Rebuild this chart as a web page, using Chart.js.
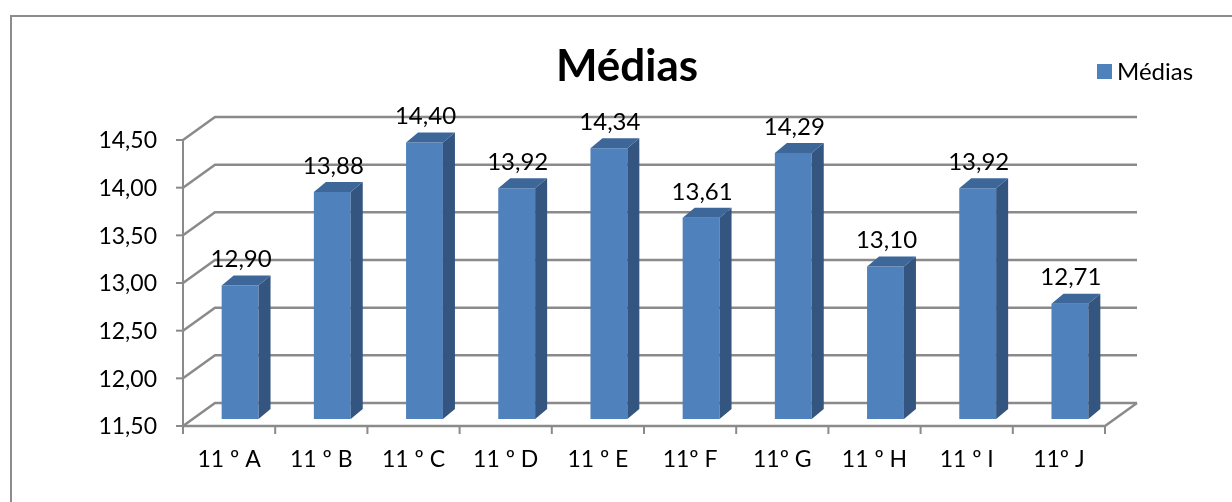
<!DOCTYPE html>
<html>
<head>
<meta charset="utf-8">
<script src="https://cdn.jsdelivr.net/npm/chart.js@4.4.1/dist/chart.umd.min.js"></script>
<style>
  html, body { margin: 0; padding: 0; background: #fff; }
  #wrap { width: 1232px; height: 502px; }
</style>
</head>
<body>
<div id="wrap"><canvas id="chart" width="1232" height="502"></canvas></div>
<script>
const turmas = ['11 º A', '11 º B', '11 º C', '11 º D', '11 º E', '11º F', '11º G', '11 º H', '11 º I', '11º J'];
const medias = [12.90, 13.88, 14.40, 13.92, 14.34, 13.61, 14.29, 13.10, 13.92, 12.71];
const yTicks = [11.5, 12, 12.5, 13, 13.5, 14, 14.5];
const titulo = 'Médias';
const serieNome = 'Médias';

const FONT = 'Lato, "Open Sans", sans-serif';
const fmt = v => v.toFixed(2).replace('.', ',');

// offsets of front / back planes from the bar plane (fake 3d)
const front = { dx: -11, dy: 7 };
const back = { dx: 21, dy: -16 };
const depth = { dx: 12, dy: -10 };

const fake3d = {
  id: 'fake3d',
  beforeDraw(chart) {
    const ctx = chart.ctx;
    ctx.save();
    ctx.fillStyle = '#fff';
    ctx.fillRect(0, 0, chart.width, chart.height);
    // outer frame
    ctx.strokeStyle = '#8c8c8c';
    ctx.lineWidth = 2;
    ctx.beginPath();
    ctx.moveTo(11, chart.height + 5);
    ctx.lineTo(11, 16);
    ctx.lineTo(chart.width + 5, 16);
    ctx.stroke();
    ctx.restore();
  },
  beforeDatasetsDraw(chart) {
    const ctx = chart.ctx;
    const y = chart.scales.y, a = chart.chartArea;
    ctx.save();
    ctx.strokeStyle = '#8a8a8a';
    ctx.lineWidth = 2.5;
    // back wall gridlines + left wall diagonals
    yTicks.forEach(t => {
      const py = y.getPixelForValue(t);
      ctx.beginPath();
      ctx.moveTo(a.left + front.dx, py + front.dy);
      ctx.lineTo(a.left + back.dx, py + back.dy);
      ctx.lineTo(a.right + back.dx, py + back.dy);
      ctx.stroke();
    });
    // floor
    const base = y.getPixelForValue(yTicks[0]);
    ctx.beginPath();
    ctx.moveTo(a.left + front.dx, base + front.dy);
    ctx.lineTo(a.right + front.dx, base + front.dy);
    ctx.lineTo(a.right + back.dx, base + back.dy);
    ctx.stroke();
    // front y axis
    const top = y.getPixelForValue(yTicks[yTicks.length - 1]);
    ctx.lineWidth = 2;
    ctx.beginPath();
    ctx.moveTo(a.left + front.dx, top + front.dy);
    ctx.lineTo(a.left + front.dx, base + front.dy);
    ctx.stroke();
    ctx.fillStyle = '#000';
    ctx.font = '23px ' + FONT;
    ctx.textAlign = 'right';
    ctx.textBaseline = 'middle';
    yTicks.forEach(t => {
      const py = y.getPixelForValue(t) + front.dy;
      ctx.beginPath();
      ctx.moveTo(a.left + front.dx - 7, py);
      ctx.lineTo(a.left + front.dx, py);
      ctx.stroke();
      ctx.fillText(fmt(t), a.left + front.dx - 26, py + 1);
    });
    // category ticks and labels
    const step = (a.right - a.left) / turmas.length;
    for (let i = 0; i <= turmas.length; i++) {
      const px = a.left + front.dx + i * step;
      ctx.beginPath();
      ctx.moveTo(px, base + front.dy);
      ctx.lineTo(px, base + front.dy + 8);
      ctx.stroke();
    }
    ctx.textAlign = 'center';
    ctx.font = '23px ' + FONT;
    turmas.forEach((t, i) => {
      ctx.fillText(t, chart.scales.x.getPixelForValue(i) + front.dx, 460);
    });
    ctx.restore();
  },
  afterDatasetsDraw(chart) {
    const ctx = chart.ctx;
    const meta = chart.getDatasetMeta(0);
    const b = chart.scales.y.getPixelForValue(yTicks[0]);
    ctx.save();
    meta.data.forEach((bar, i) => {
      const l = bar.x - bar.width / 2, r = bar.x + bar.width / 2;
      const t = bar.y;
      ctx.fillStyle = '#34557f';
      ctx.beginPath();
      ctx.moveTo(r, t);
      ctx.lineTo(r + depth.dx, t + depth.dy);
      ctx.lineTo(r + depth.dx, b + depth.dy);
      ctx.lineTo(r, b);
      ctx.closePath();
      ctx.fill();
      ctx.fillStyle = '#3d6699';
      ctx.beginPath();
      ctx.moveTo(l, t);
      ctx.lineTo(l + depth.dx, t + depth.dy);
      ctx.lineTo(r + depth.dx, t + depth.dy);
      ctx.lineTo(r, t);
      ctx.closePath();
      ctx.fill();
      // value label
      ctx.fillStyle = '#000';
      ctx.font = '24px ' + FONT;
      ctx.textAlign = 'center';
      ctx.textBaseline = 'middle';
      ctx.fillText(fmt(medias[i]), bar.x + 1, t - 26);
    });
    ctx.restore();
  },
  afterDraw(chart) {
    const ctx = chart.ctx;
    ctx.save();
    ctx.fillStyle = '#000';
    ctx.textBaseline = 'alphabetic';
    ctx.textAlign = 'center';
    ctx.font = 'bold 44px ' + FONT;
    ctx.fillText(titulo, 627, 81);
    // legend
    ctx.fillStyle = '#4f81bd';
    ctx.fillRect(1097, 64, 15, 15);
    ctx.fillStyle = '#000';
    ctx.font = '24px ' + FONT;
    ctx.textAlign = 'left';
    ctx.textBaseline = 'middle';
    ctx.fillText(serieNome, 1117, 72);
    ctx.restore();
  }
};

new Chart(document.getElementById('chart'), {
  type: 'bar',
  data: {
    labels: turmas,
    datasets: [{
      label: serieNome,
      data: medias,
      backgroundColor: '#4f81bd',
      borderWidth: 0,
      barPercentage: 0.4,
      categoryPercentage: 1
    }]
  },
  options: {
    responsive: false,
    devicePixelRatio: 1,
    animation: false,
    layout: { padding: { left: 194, right: 116, top: 133, bottom: 83 } },
    plugins: {
      legend: { display: false },
      title: { display: false },
      tooltip: { enabled: false }
    },
    scales: {
      x: { display: false },
      y: { display: false, min: 11.5, max: 14.5 }
    }
  },
  plugins: [fake3d]
});
</script>
</body>
</html>
